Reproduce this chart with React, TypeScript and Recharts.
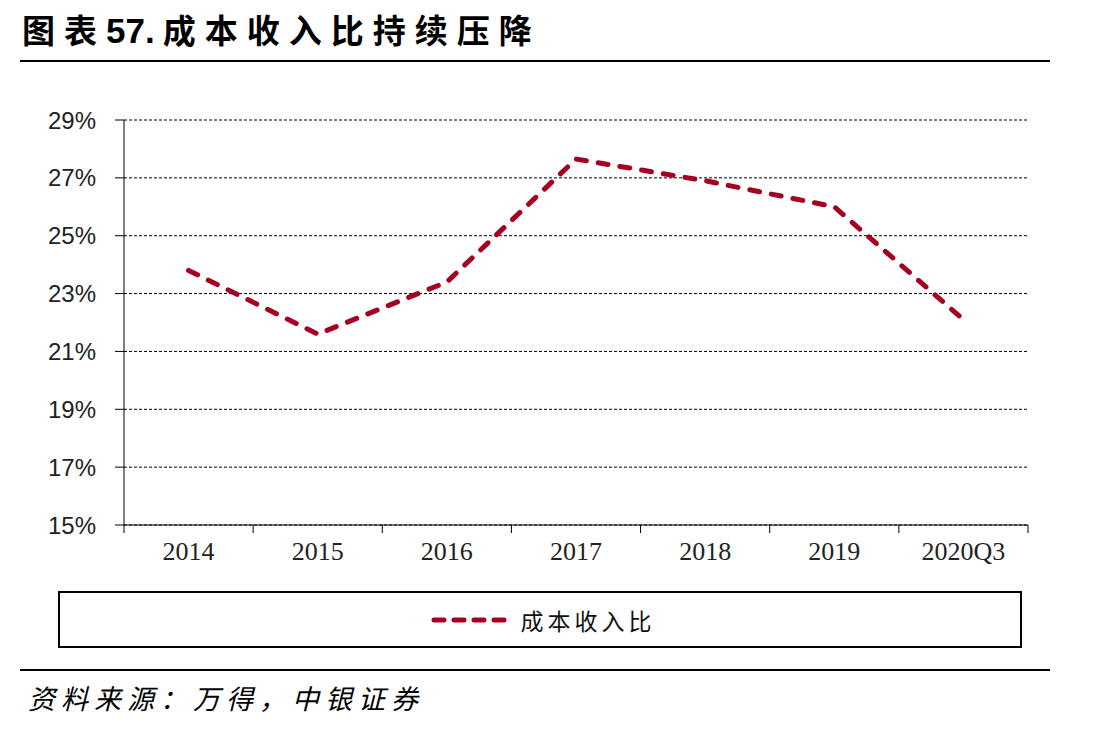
import { LineChart, Line, XAxis, YAxis, CartesianGrid, Legend } from 'recharts';

const categories = ['2014', '2015', '2016', '2017', '2018', '2019', '2020Q3'];
const costIncomeRatio = [23.8, 21.6, 23.4, 27.65, 26.9, 26.0, 22.1];
const yTicks = [15, 17, 19, 21, 23, 25, 27, 29];
const seriesName = '成本收入比';

const data = categories.map((c, i) => ({ name: c, ratio: costIncomeRatio[i] }));

const RED = '#A50021';
const CHART_W = 1099;
const PLOT_LEFT = 124;
const PLOT_RIGHT = 71;
const HALF_BAND = (CHART_W - PLOT_LEFT - PLOT_RIGHT) / categories.length / 2;

function XTick(props: any) {
  const { x, y, payload, index } = props;
  const last = index === categories.length - 1;
  return (
    <g>
      <line x1={x - HALF_BAND} x2={x - HALF_BAND} y1={y} y2={y + 8} stroke="#000" strokeWidth={1} />
      {last && <line x1={x + HALF_BAND} x2={x + HALF_BAND} y1={y} y2={y + 8} stroke="#000" strokeWidth={1} />}
      <text x={x} y={y + 35} textAnchor="middle" fill="#222" fontSize={26} fontFamily="'Liberation Serif', serif">
        {payload.value}
      </text>
    </g>
  );
}

function LegendBox() {
  return (
    <div
      style={{
        boxSizing: 'border-box',
        width: 964,
        height: 57,
        border: '2px solid #000',
        display: 'flex',
        alignItems: 'center',
        justifyContent: 'center',
        paddingLeft: 4,
      }}
    >
      <svg width={86} height={12} style={{ marginRight: 6 }}>
        <line x1={5} x2={82} y1={6} y2={6} stroke={RED} strokeWidth={5} strokeDasharray="10 10" strokeLinecap="round" />
      </svg>
      <span style={{ fontSize: 23, letterSpacing: 4, color: '#111', fontFamily: "'Noto Sans CJK SC', sans-serif" }}>
        {seriesName}
      </span>
    </div>
  );
}

export default function App() {
  return (
    <div style={{ position: 'absolute', left: 0, top: 0, width: 1099, height: 730, background: '#fff', fontFamily: "'Noto Sans CJK SC', sans-serif" }}>
      <div
        style={{
          position: 'absolute',
          left: 22,
          top: 5,
          fontSize: 33,
          fontWeight: 700,
          letterSpacing: 9,
          color: '#000',
          whiteSpace: 'nowrap',
        }}
      >
        图表
        <span style={{ letterSpacing: 0, fontFamily: "'Liberation Sans Narrow', 'Liberation Sans', sans-serif", fontSize: 35, marginRight: 8 }}>57.</span>
        成本收入比持续压降
      </div>
      <div style={{ position: 'absolute', left: 20, top: 60, width: 1030, height: 2, background: '#000' }} />

      <div style={{ position: 'absolute', left: 0, top: 0 }}>
        <LineChart width={CHART_W} height={660} data={data} margin={{ top: 120, right: PLOT_RIGHT, bottom: 105, left: 0 }}>
          <CartesianGrid vertical={false} stroke="#000" strokeDasharray="3 2" strokeWidth={1} />
          <XAxis
            dataKey="name"
            axisLine={{ stroke: '#000', strokeWidth: 1 }}
            tickLine={false}
            tickSize={0}
            tickMargin={0}
            height={30}
            interval={0}
            padding={{ left: HALF_BAND, right: HALF_BAND }}
            tick={<XTick />}
          />
          <YAxis
            width={PLOT_LEFT}
            domain={[15, 29]}
            ticks={yTicks}
            interval={0}
            axisLine={{ stroke: '#000', strokeWidth: 1 }}
            tickLine={{ stroke: '#000', strokeWidth: 1 }}
            tickSize={9}
            tickMargin={19}
            tickFormatter={(v: number) => `${v}%`}
            tick={{ fill: '#222', fontSize: 24, fontFamily: "'Liberation Sans', Arial, sans-serif" }}
          />
          <Legend
            layout="vertical"
            align="center"
            verticalAlign="middle"
            wrapperStyle={{ position: 'absolute', left: 58, top: 591, width: 964, height: 57 }}
            content={() => <LegendBox />}
          />
          <Line
            type="linear"
            dataKey="ratio"
            name={seriesName}
            stroke={RED}
            strokeWidth={5}
            strokeDasharray="10 12"
            strokeLinecap="round"
            dot={false}
            activeDot={false}
            isAnimationActive={false}
          />
        </LineChart>
      </div>

      <div style={{ position: 'absolute', left: 20, top: 669, width: 1030, height: 2, background: '#000' }} />
      <div
        style={{
          position: 'absolute',
          left: 28,
          top: 678,
          fontSize: 27,
          fontStyle: 'italic',
          letterSpacing: 6,
          color: '#000',
          whiteSpace: 'nowrap',
        }}
      >
        资料来源：万得，中银证券
      </div>
    </div>
  );
}
